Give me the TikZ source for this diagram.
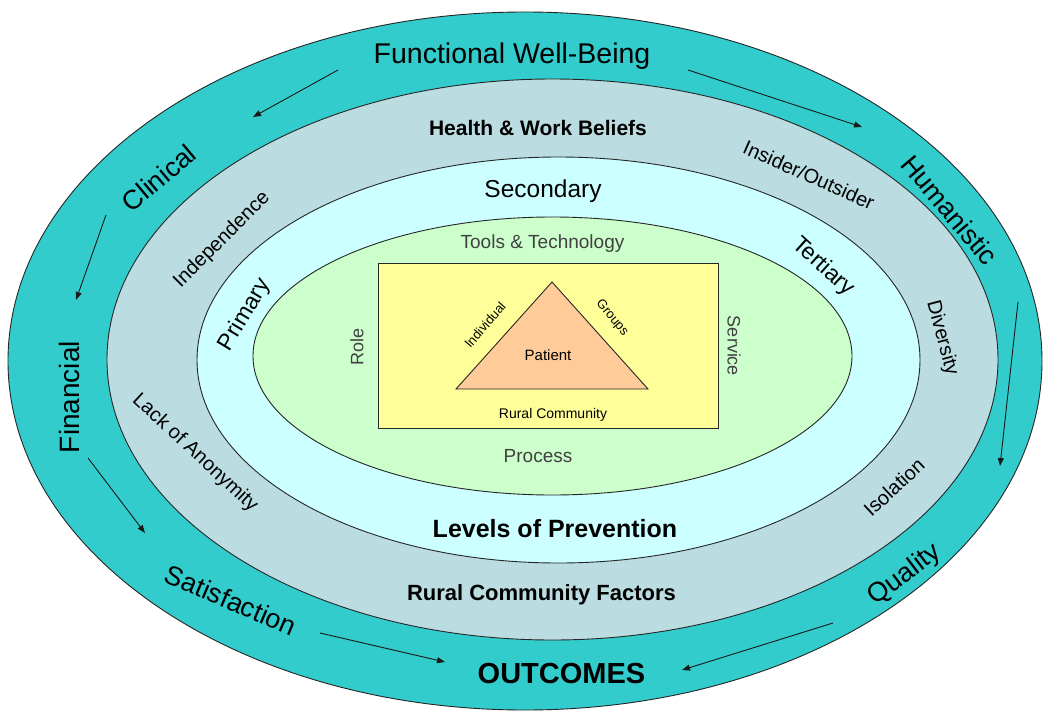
\documentclass[tikz,border=0pt]{standalone}
\usepackage{fontspec}
\setmainfont{Liberation Sans}
\usetikzlibrary{arrows.meta}

\definecolor{ringOuter}{HTML}{33CCCC}
\definecolor{ringFactors}{HTML}{BBDDE2}
\definecolor{ringLevels}{HTML}{CCFFFF}
\definecolor{ringCore}{HTML}{CCFFCC}
\definecolor{boxYellow}{HTML}{FFFF99}
\definecolor{triPeach}{HTML}{FFCC99}
\definecolor{softText}{HTML}{404040}

\tikzset{
  fs/.style={font=\fontsize{#1pt}{#1pt}\selectfont, inner sep=0pt},
  fsb/.style={font=\fontsize{#1pt}{#1pt}\selectfont\bfseries, inner sep=0pt},
  ring/.style={draw=black!85, line width=0.9pt},
  flow/.style={draw=black!90, line width=0.9pt, -{Triangle[length=8pt,width=6pt]}},
}

\begin{document}
\begin{tikzpicture}[x=1pt,y=-1pt]
\useasboundingbox (0,0) rectangle (1045,715);

% nested rings
\path[ring, fill=ringOuter]   (525,361)   ellipse [x radius=517,   y radius=349];
\path[ring, fill=ringFactors] (552.5,359.5) ellipse [x radius=445.5, y radius=280.5];
\path[ring, fill=ringLevels]  (558.5,360) ellipse [x radius=361.5, y radius=203];
\path[ring, fill=ringCore]    (552.5,356) ellipse [x radius=299.5, y radius=139];

% central box and triangle
\draw[ring, fill=boxYellow] (378,263) rectangle (718,428);
\draw[ring, fill=triPeach] (552,282) -- (648,389) -- (456,389) -- cycle;

% outcomes ring
\node[fs=28.5, anchor=base] (fwb) at (512,63) {Functional Well-Being};
\node[fs=27, rotate=40] (clin) at (159,178) {Clinical};
\node[fs=28, rotate=90] (fin) at (69,397) {Financial};
\node[fs=27, rotate=-23] (sat) at (231,600) {Satisfaction};
\node[fsb=29, anchor=base] (out) at (561.5,683) {OUTCOMES};
\node[fs=27, rotate=37] (qual) at (905,575) {Quality};
\node[fs=27, rotate=-50] (hum) at (950,210) {Humanistic};

% rural community factors ring
\node[fsb=21, anchor=base] (hwb) at (538,135) {Health \& Work Beliefs};
\node[fs=20, rotate=45] (ind) at (222,240) {Independence};
\node[fs=20, rotate=-43] (anon) at (195,453) {Lack of Anonymity};
\node[fsb=22, anchor=base] (rcf) at (541.5,600) {Rural Community Factors};
\node[fs=20, rotate=43] (iso) at (894,487) {Isolation};
\node[fs=20, rotate=-75] (div) at (942,338) {Diversity};
\node[fs=20, rotate=-24] (ins) at (809,175) {Insider/Outsider};

% levels of prevention ring
\node[fs=24.5, anchor=base] (sec) at (543,197) {Secondary};
\node[fs=23, rotate=59] (prim) at (245,315) {Primary};
\node[fs=23, rotate=-42] (tert) at (823,267) {Tertiary};
\node[fsb=25, anchor=base] (lop) at (555,537) {Levels of Prevention};

% core ring
\node[fs=19, anchor=base, text=softText] (tools) at (542.5,248) {Tools \& Technology};
\node[fs=18, rotate=90, text=softText] (role) at (357,347) {Role};
\node[fs=18, rotate=-90, text=softText] (serv) at (734,346) {Service};
\node[fs=19, anchor=base, text=softText] (proc) at (538,462) {Process};

% triangle labels
\node[fs=13, rotate=49] (indiv) at (485,325) {Individual};
\node[fs=13, rotate=-50] (grp) at (612,318) {Groups};
\node[fs=15, anchor=base] (pat) at (548,360) {Patient};
\node[fs=14, anchor=base] (rc) at (553,418) {Rural Community};

% flow arrows around the outer ring
\coordinate (a1s) at (338,70);   \coordinate (a1e) at (253,117);
\coordinate (a2s) at (106,215);  \coordinate (a2e) at (76,300);
\coordinate (a3s) at (88,458);   \coordinate (a3e) at (145,533);
\coordinate (a4s) at (320,633);  \coordinate (a4e) at (445,662);
\coordinate (a5s) at (833,623);  \coordinate (a5e) at (682,670);
\coordinate (a6s) at (1018,302); \coordinate (a6e) at (1000,466);
\coordinate (a7s) at (688,70);   \coordinate (a7e) at (862,127);
\foreach \k in {1,...,7} \draw[flow] (a\k s) -- (a\k e);
\end{tikzpicture}
\end{document}
